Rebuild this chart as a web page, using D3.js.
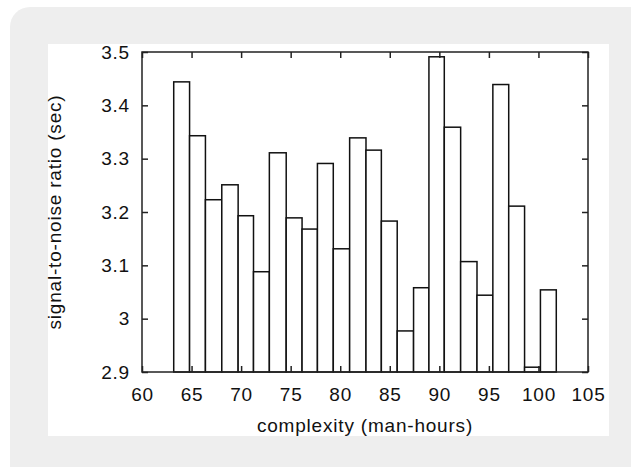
<!DOCTYPE html>
<html>
<head>
<meta charset="utf-8">
<script src="https://cdn.jsdelivr.net/npm/d3@7"></script>
<style>
  body { margin: 0; background: #fff; }
  svg text { font-family: "Liberation Sans", Arial, sans-serif; fill: #111; }
</style>
</head>
<body>
<svg width="631" height="467"></svg>
<script>
(function () {
  "use strict";
  // complexity (man-hours), box centres
  const complexity = [64.0, 65.6, 67.2, 68.9, 70.5, 72.0, 73.7, 75.4, 76.9, 78.5,
    80.1, 81.8, 83.4, 84.9, 86.6, 88.2, 89.7, 91.3, 93.0, 94.6, 96.2, 97.8, 99.4, 101.0];
  // signal-to-noise ratio (sec)
  const snr = [3.444, 3.343, 3.223, 3.251, 3.193, 3.088, 3.311, 3.189, 3.168, 3.291,
    3.131, 3.339, 3.316, 3.183, 2.977, 3.058, 3.491, 3.359, 3.107, 3.044, 3.439, 3.211, 2.909, 3.054];
  const xTicks = [60, 65, 70, 75, 80, 85, 90, 95, 100, 105];
  const yTicks = [2.9, 3.0, 3.1, 3.2, 3.3, 3.4, 3.5];

  const svg = d3.select("svg");

  // card + white plot panel
  svg.append("rect")
    .attr("x", 10).attr("y", 7)
    .attr("width", 650).attr("height", 480)
    .attr("rx", 20)
    .attr("fill", "#eeeeee");
  svg.append("rect")
    .attr("x", 48).attr("y", 44)
    .attr("width", 561).attr("height", 392)
    .attr("fill", "#fff");

  const left = 142, right = 588, top = 52, bottom = 372;
  const x = d3.scaleLinear().domain([60, 105]).range([left, right]);
  const y = d3.scaleLinear().domain([2.9, 3.5]).range([bottom, top]);

  // box edges halfway between neighbouring centres
  const edges = complexity.map((c, i) => {
    const prev = i > 0 ? complexity[i - 1] : c - (complexity[1] - complexity[0]);
    const next = i < complexity.length - 1 ? complexity[i + 1] : c + (c - complexity[i - 1]);
    return [(prev + c) / 2, (c + next) / 2];
  });

  const bars = svg.append("g");
  bars.selectAll("rect")
    .data(snr)
    .join("rect")
    .attr("x", (d, i) => x(edges[i][0]))
    .attr("width", (d, i) => x(edges[i][1]) - x(edges[i][0]))
    .attr("y", d => y(d))
    .attr("height", d => y(2.9) - y(d))
    .attr("fill", "#fff")
    .attr("stroke", "#111")
    .attr("stroke-width", 1.5);

  // axes: gnuplot style, inward ticks mirrored on all sides
  const tick = 6;
  const axisStyle = g => {
    g.select(".domain").remove();
    g.selectAll(".tick line").attr("stroke", "#222").attr("stroke-width", 1.5);
    g.selectAll(".tick text").attr("font-size", 19).attr("letter-spacing", 0.8);
  };
  svg.append("g")
    .attr("transform", `translate(0,${bottom})`)
    .call(d3.axisBottom(x).tickValues(xTicks).tickFormat(d3.format("d"))
      .tickSizeInner(-tick).tickSizeOuter(0).tickPadding(16))
    .call(axisStyle);
  svg.append("g")
    .attr("transform", `translate(0,${top})`)
    .call(d3.axisTop(x).tickValues(xTicks).tickFormat("")
      .tickSizeInner(-tick).tickSizeOuter(0))
    .call(axisStyle);
  svg.append("g")
    .attr("transform", `translate(${left},0)`)
    .call(d3.axisLeft(y).tickValues(yTicks).tickFormat(d3.format("~g"))
      .tickSizeInner(-tick).tickSizeOuter(0).tickPadding(12))
    .call(axisStyle);
  svg.append("g")
    .attr("transform", `translate(${right},0)`)
    .call(d3.axisRight(y).tickValues(yTicks).tickFormat("")
      .tickSizeInner(-tick).tickSizeOuter(0))
    .call(axisStyle);

  svg.selectAll(".tick text").attr("fill", "#111");

  // frame
  svg.append("rect")
    .attr("x", left).attr("y", top)
    .attr("width", right - left).attr("height", bottom - top)
    .attr("fill", "none")
    .attr("stroke", "#222")
    .attr("stroke-width", 1.5);

  // axis titles
  svg.append("text")
    .attr("x", (left + right) / 2)
    .attr("y", 432)
    .attr("text-anchor", "middle")
    .attr("font-size", 19)
    .attr("letter-spacing", 0.8)
    .text("complexity (man-hours)");
  svg.append("text")
    .attr("transform", `translate(61,${(top + bottom) / 2}) rotate(-90)`)
    .attr("text-anchor", "middle")
    .attr("font-size", 19)
    .attr("letter-spacing", 0.8)
    .text("signal-to-noise ratio (sec)");
})(d3);
</script>
</body>
</html>
